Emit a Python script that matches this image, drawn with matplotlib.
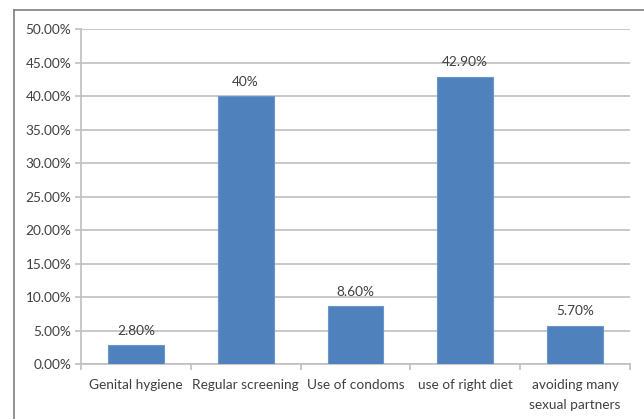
import numpy as np
import matplotlib.pyplot as plt
from matplotlib.lines import Line2D
from matplotlib.ticker import FuncFormatter, FixedLocator

# données
categories = ['Genital hygiene', 'Regular screening', 'Use of condoms',
              'use of right diet', 'avoiding many\nsexual partners']
valeurs = [2.8, 40.0, 8.6, 42.9, 5.7]
etiquettes = ['2.80%', '40%', '8.60%', '42.90%', '5.70%']

plt.rcParams['font.family'] = ['Lato', 'DejaVu Sans']
gris_texte = '#404040'
gris_grille = '#BFBFBF'

fig = plt.figure(figsize=(6.44, 4.19), dpi=100)
ax = fig.add_axes([81/644, 1-364/419, (630-81)/644, (364-29)/419])

x = np.arange(len(categories))
barres = ax.bar(x, valeurs, width=0.51, color='#4F81BD', edgecolor='#6A96CC',
                linewidth=0.8, zorder=3)

# étiquettes de valeur au-dessus des barres
for b, t in zip(barres, etiquettes):
    ax.annotate(t, (b.get_x() + b.get_width()/2, b.get_height()),
                xytext=(0, 6), textcoords='offset points', ha='center', va='bottom',
                fontsize=9.8, color=gris_texte)

ax.set_xlim(-0.5, len(categories) - 0.5)
ax.set_ylim(0, 50)
ax.set_yticks(np.arange(0, 51, 5))
ax.yaxis.set_major_formatter(FuncFormatter(lambda v, p: '%.2f%%' % v))
ax.yaxis.grid(True, color=gris_grille, linewidth=1.2, zorder=0)

ax.set_xticks(x)
ax.set_xticklabels(categories, fontsize=9.8, color=gris_texte, linespacing=1.75)
ax.tick_params(axis='x', length=0, pad=11)
ax.xaxis.set_minor_locator(FixedLocator(np.arange(-0.5, len(categories), 1.0)))
ax.tick_params(axis='x', which='minor', length=4, color=gris_grille, width=1.2)
ax.tick_params(axis='y', labelsize=9.8, labelcolor=gris_texte, length=4,
               color=gris_grille, width=1.2, pad=3)

for s in ['top', 'right']:
    ax.spines[s].set_visible(False)
for s in ['left', 'bottom']:
    ax.spines[s].set_color(gris_grille)
    ax.spines[s].set_linewidth(1.2)

# cadre extérieur du graphique
fig.add_artist(Line2D([14/644, 14/644], [0, 1-10/419], transform=fig.transFigure,
                      color='#7F7F7F', linewidth=1.2))
fig.add_artist(Line2D([14/644, 1], [1-10/419, 1-10/419], transform=fig.transFigure,
                      color='#7F7F7F', linewidth=1.2))

plt.savefig('out.png', dpi=100)
